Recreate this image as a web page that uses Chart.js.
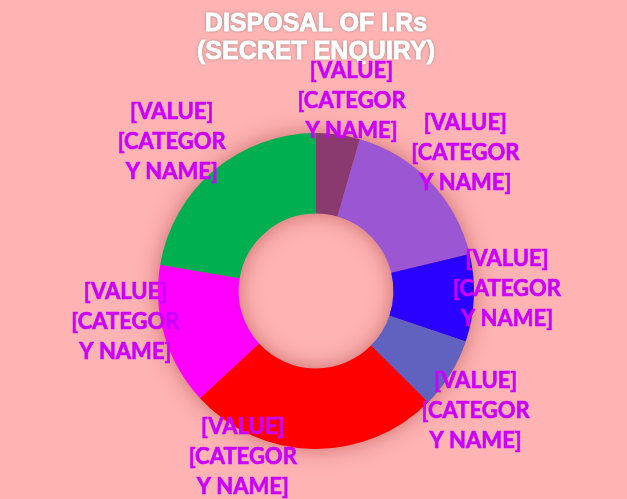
<!DOCTYPE html>
<html>
<head>
<meta charset="utf-8">
<script src="https://cdn.jsdelivr.net/npm/chart.js@4/dist/chart.umd.min.js"></script>
<style>
  html, body { margin: 0; padding: 0; background: #FFB3B3; }
  #wrap { width: 627px; height: 499px; }
</style>
</head>
<body>
<div id="wrap"><canvas id="pieChart" width="627" height="499"></canvas></div>
<script>
// data
const categories = ["Cat 1", "Cat 2", "Cat 3", "Cat 4", "Cat 5", "Cat 6", "Cat 7"];
const values = [4, 15, 8, 6.5, 23, 13, 20];
const sliceColors = ["#8B3A70", "#9B57D3", "#2A00FF", "#6161C0", "#FF0000", "#FF00FF", "#00B050"];
const titleLines = ["DISPOSAL OF I.Rs", "(SECRET ENQUIRY)"];
const labelLines = ["[VALUE]", "[CATEGOR", "Y NAME]"];

// where each data label sits: nudge from mid angle (deg) and distance from centre
const labelNudge = [2.5, 0.8, -3.5, 5, 23, 7.6, -3.7];
const labelRadius = [194, 204, 191, 199, 180, 193, 208];

const bgPlugin = {
    id: 'bg',
    beforeDraw(chart) {
        const ctx = chart.ctx;
        ctx.save();
        ctx.fillStyle = '#FFB3B3';
        ctx.fillRect(0, 0, chart.width, chart.height);
        ctx.restore();
    }
};

// one soft shadow under the whole ring
const shadowPlugin = {
    id: 'ringShadow',
    beforeDatasetsDraw(chart) {
        const arc = chart.getDatasetMeta(0).data[0];
        if (!arc) return;
        const p = arc.getProps(['x', 'y', 'innerRadius', 'outerRadius'], true);
        const ctx = chart.ctx;
        ctx.save();
        ctx.shadowColor = 'rgba(140,30,30,0.5)';
        ctx.shadowBlur = 22;
        ctx.fillStyle = '#C06060';
        ctx.beginPath();
        ctx.arc(p.x, p.y, p.outerRadius - 1, 0, Math.PI * 2);
        ctx.arc(p.x, p.y, p.innerRadius + 1, Math.PI * 2, 0, true);
        ctx.fill();
        ctx.restore();
    }
};

const textPlugin = {
    id: 'texts',
    afterDraw(chart) {
        const ctx = chart.ctx;
        const meta = chart.getDatasetMeta(0);
        ctx.save();
        // title
        ctx.font = 'bold 25px "Liberation Sans", Arial, sans-serif';
        ctx.textAlign = 'center';
        ctx.textBaseline = 'middle';
        ctx.fillStyle = '#FFFFFF';
        ctx.shadowColor = 'rgba(80,80,80,0.7)';
        ctx.shadowBlur = 3;
        titleLines.forEach((t, i) => {
            ctx.fillText(t, 316, 24 + i * 28);
        });
        ctx.shadowBlur = 0;
        ctx.shadowColor = 'transparent';
        ctx.lineWidth = 0.8;
        ctx.strokeStyle = '#FFFFFF';
        titleLines.forEach((t, i) => ctx.strokeText(t, 316, 24 + i * 28));

        // data labels
        ctx.font = 'bold 22px Lato, "Open Sans", sans-serif';
        ctx.fillStyle = '#CC00FF';
        ctx.strokeStyle = '#CC00FF';
        ctx.lineWidth = 0.6;
        meta.data.forEach((arc, i) => {
            const p = arc.getProps(['x', 'y', 'startAngle', 'endAngle'], true);
            const mid = (p.startAngle + p.endAngle) / 2 + labelNudge[i] * Math.PI / 180;
            const lx = p.x + Math.cos(mid) * labelRadius[i];
            const ly = p.y + Math.sin(mid) * labelRadius[i];
            labelLines.forEach((t, j) => {
                ctx.fillText(t, lx, ly + (j - 1) * 30 + 1);
                ctx.strokeText(t, lx, ly + (j - 1) * 30 + 1);
            });
        });
        ctx.restore();
    }
};

new Chart(document.getElementById('pieChart'), {
    type: 'doughnut',
    data: {
        labels: categories,
        datasets: [{
            data: values,
            backgroundColor: sliceColors,
            borderWidth: 0
        }]
    },
    options: {
        responsive: false,
        animation: false,
        cutout: '49%',
        layout: { padding: { top: 133, bottom: 50, left: 5, right: 0 } },
        plugins: {
            legend: { display: false },
            title: { display: false },
            tooltip: { enabled: false }
        }
    },
    plugins: [bgPlugin, shadowPlugin, textPlugin]
});
</script>
</body>
</html>
